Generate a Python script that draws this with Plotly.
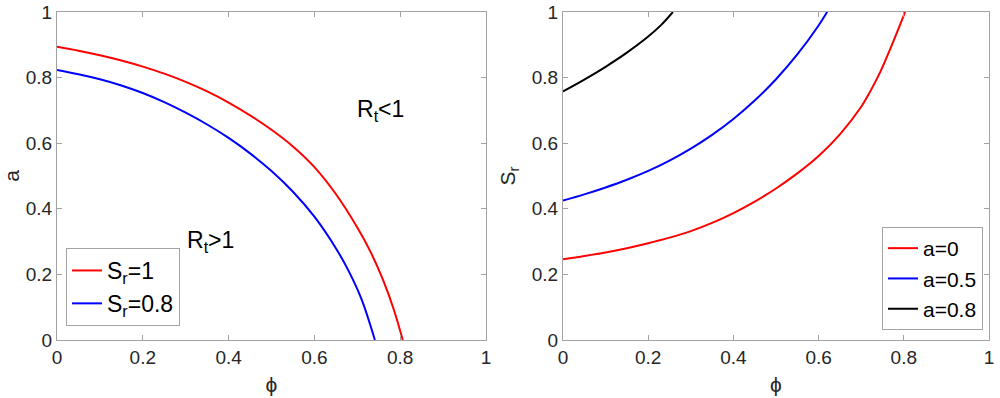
import plotly.graph_objects as go

# ---- Left panel: threshold curves a(phi) for two S_r values ----
phi_sr1 = [0, 0.05, 0.1, 0.15, 0.2, 0.25, 0.3, 0.35, 0.4, 0.45, 0.5, 0.55, 0.6, 0.65, 0.7, 0.73, 0.76, 0.785, 0.806]
a_sr1 = [0.894, 0.882, 0.868, 0.852, 0.8335, 0.812, 0.787, 0.758, 0.724, 0.685, 0.641, 0.590, 0.527, 0.445,
         0.343, 0.271, 0.183, 0.093, 0.0]

phi_sr08 = [0, 0.05, 0.1, 0.15, 0.2, 0.25, 0.3, 0.35, 0.4, 0.45, 0.5, 0.55, 0.6, 0.65, 0.68, 0.71, 0.741]
a_sr08 = [0.823, 0.810, 0.795, 0.776, 0.753, 0.725, 0.693, 0.657, 0.616, 0.569, 0.515, 0.452, 0.376, 0.280,
          0.210, 0.124, 0.0]

# ---- Right panel: threshold curves S_r(phi) for three a values ----
phi_a0 = [0, 0.05, 0.1, 0.15, 0.2, 0.25, 0.3, 0.35, 0.4, 0.45, 0.5, 0.55, 0.6, 0.65, 0.7, 0.72, 0.744, 0.77,
          0.79, 0.803]
sr_a0 = [0.246, 0.256, 0.267, 0.280, 0.295, 0.312, 0.332, 0.357, 0.387, 0.422, 0.462, 0.508, 0.561, 0.627,
         0.711, 0.755, 0.815, 0.893, 0.957, 1.0]

phi_a05 = [0, 0.05, 0.1, 0.15, 0.2, 0.25, 0.3, 0.35, 0.4, 0.45, 0.5, 0.55, 0.6, 0.62]
sr_a05 = [0.425, 0.444, 0.465, 0.4885, 0.5155, 0.547, 0.5835, 0.6255, 0.674, 0.730, 0.795, 0.8705, 0.959, 1.0]

phi_a08 = [0, 0.05, 0.1, 0.15, 0.2, 0.23, 0.258]
sr_a08 = [0.758, 0.794, 0.833, 0.876, 0.925, 0.960, 1.0]

ticks = [0, 0.2, 0.4, 0.6, 0.8, 1]
tick_text = ["0", "0.2", "0.4", "0.6", "0.8", "1"]

FONT = "Liberation Sans, Arial, Helvetica, sans-serif"
AX = "#a3a3a3"
TXT = "#262626"

fig = go.Figure()
fig.add_trace(go.Scatter(x=phi_sr1, y=a_sr1, mode="lines", line=dict(color="#ff0000", width=2, shape="spline"),
                         name="S<sub>r</sub>=1", xaxis="x", yaxis="y", legend="legend"))
fig.add_trace(go.Scatter(x=phi_sr08, y=a_sr08, mode="lines", line=dict(color="#0000ff", width=2, shape="spline"),
                         name="S<sub>r</sub>=0.8", xaxis="x", yaxis="y", legend="legend"))
fig.add_trace(go.Scatter(x=phi_a0, y=sr_a0, mode="lines", line=dict(color="#ff0000", width=2, shape="spline"),
                         name="a=0", xaxis="x2", yaxis="y2", legend="legend2"))
fig.add_trace(go.Scatter(x=phi_a05, y=sr_a05, mode="lines", line=dict(color="#0000ff", width=2, shape="spline"),
                         name="a=0.5", xaxis="x2", yaxis="y2", legend="legend2"))
fig.add_trace(go.Scatter(x=phi_a08, y=sr_a08, mode="lines", line=dict(color="#000000", width=2, shape="spline"),
                         name="a=0.8", xaxis="x2", yaxis="y2", legend="legend2"))

def axis(domain, anchor, title, standoff):
    return dict(domain=domain, anchor=anchor, range=[0, 1], tickvals=ticks, ticktext=tick_text,
                showline=True, linecolor=AX, linewidth=1, mirror="ticks", ticks="inside", ticklen=5,
                tickcolor=AX, showgrid=False, zeroline=False, automargin=False,
                tickfont=dict(family=FONT, size=19, color=TXT),
                title=dict(text=title, font=dict(family=FONT, size=21, color=TXT), standoff=standoff))

ydom = [1 - 340 / 398, 1 - 12 / 398]
fig.update_layout(
    width=1000, height=398,
    margin=dict(l=0, r=0, t=0, b=0),
    paper_bgcolor="white", plot_bgcolor="white",
    font=dict(family=FONT, color=TXT),
    xaxis=axis([0.057, 0.486], "y", "ϕ", 10),
    yaxis=axis(ydom, "x", "a", 10),
    xaxis2=axis([0.563, 0.989], "y2", "ϕ", 10),
    yaxis2=axis(ydom, "x2", "S<sub>r</sub>", 10),
    legend=dict(x=0.066, y=1 - 248 / 398, xanchor="left", yanchor="top",
                bordercolor=AX, borderwidth=1, bgcolor="white",
                font=dict(family=FONT, size=23, color="#000000"), tracegroupgap=0),
    legend2=dict(x=0.983, y=1 - 330 / 398, xanchor="right", yanchor="bottom",
                 bordercolor=AX, borderwidth=1, bgcolor="white",
                 font=dict(family=FONT, size=21, color="#000000"), tracegroupgap=0),
    annotations=[
        dict(x=0.755, y=0.70, xref="x", yref="y", text="R<sub>t</sub><1", showarrow=False,
             font=dict(family=FONT, size=23, color="#000000")),
        dict(x=0.357, y=0.30, xref="x", yref="y", text="R<sub>t</sub>>1", showarrow=False,
             font=dict(family=FONT, size=23, color="#000000")),
    ],
)

fig.write_html("out.html", config={"displayModeBar": False},
               post_script="document.body.style.margin='0';")
